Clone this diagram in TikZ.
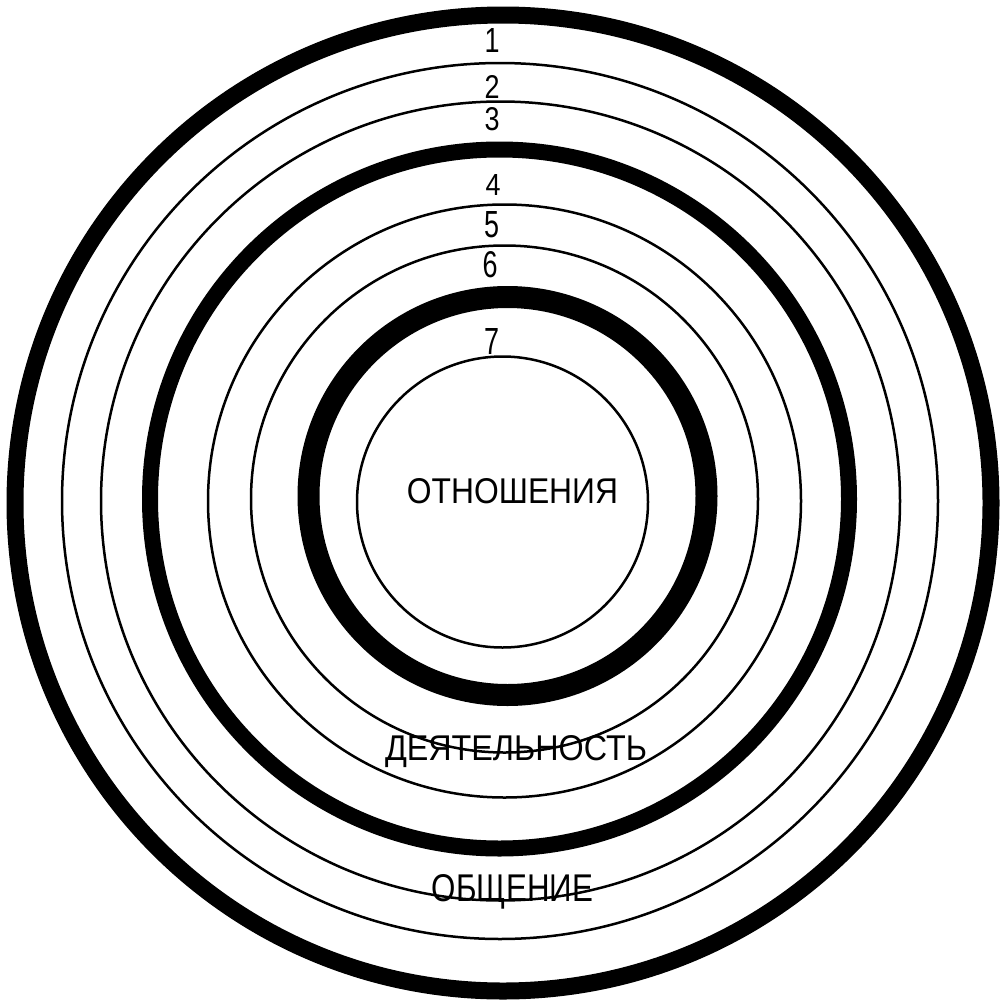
\documentclass[tikz,border=0pt]{standalone}
\usepackage{fontspec}
\setmainfont{Liberation Sans}
\usepackage{graphicx}
\begin{document}
\begin{tikzpicture}[x=1pt,y=-1pt,
  ring/.style={circle,draw=black,inner sep=0pt,outer sep=0pt,minimum size=#1},
  thinring/.style={ring=#1,line width=2.5pt},
  lbl/.style={inner sep=0pt,outer sep=0pt,anchor=base,text=black}]
\fill[white] (0,0) rectangle (1000,1004);
\useasboundingbox (0,0) rectangle (1000,1004);
% rings
\node[ring=976pt,line width=17pt] (r0) at (503,503) {};
\node[thinring=876pt] (r1) at (500,501) {};
\node[thinring=799pt] (r2) at (500.5,501) {};
\node[ring=699pt,line width=16pt] (r3) at (499.5,499) {};
\node[thinring=593pt] (r4) at (504.5,501) {};
\node[thinring=507pt] (r5) at (504.5,499) {};
\node[ring=398pt,line width=22pt] (r6) at (507.5,496) {};
\node[thinring=291pt] (r7) at (502.5,502) {};
% numbers
\node[lbl] (n1) at (492,52) {\resizebox{15pt}{24pt}{1}};
\node[lbl] (n2) at (492,98) {\resizebox{15pt}{23pt}{2}};
\node[lbl] (n3) at (492,130) {\resizebox{15pt}{23pt}{3}};
\node[lbl] (n4) at (493,195) {\resizebox{15pt}{21pt}{4}};
\node[lbl] (n5) at (492,237) {\resizebox{15pt}{26pt}{5}};
\node[lbl] (n6) at (490,277) {\resizebox{15pt}{26pt}{6}};
\node[lbl] (n7) at (492,354) {\resizebox{15pt}{26pt}{7}};
% words
\node[lbl] (w1) at (512.5,503) {\resizebox{211pt}{25pt}{ОТНОШЕНИЯ}};
\node[lbl] (w2) at (516,760) {\resizebox{262pt}{25pt}{ДЕЯТЕЛЬНОСТЬ}};
\node[lbl] (w3) at (512.5,901) {\resizebox{161pt}{27pt}{ОБЩЕНИЕ}};
\end{tikzpicture}
\end{document}
